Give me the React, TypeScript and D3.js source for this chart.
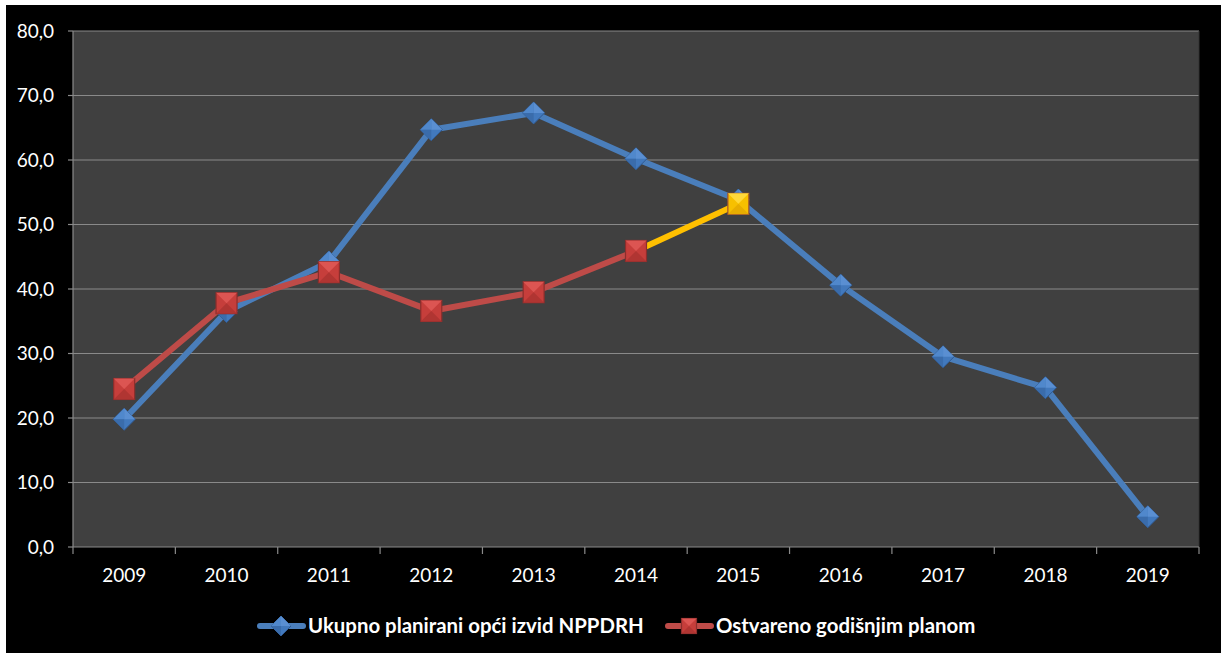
import * as d3 from 'd3';

const years = ['2009', '2010', '2011', '2012', '2013', '2014', '2015', '2016', '2017', '2018', '2019'];
const planned = [19.8, 36.5, 44.2, 64.7, 67.3, 60.2, 53.8, 40.6, 29.5, 24.7, 4.7];
const achieved = [24.5, 37.8, 42.6, 36.6, 39.5, 45.9, 53.2];
const yTicks = [0, 10, 20, 30, 40, 50, 60, 70, 80];
const plannedLabel = 'Ukupno planirani opći izvid NPPDRH';
const achievedLabel = 'Ostvareno godišnjim planom';

const W = 1221;
const H = 655;
const margin = { top: 31, right: 22, bottom: 108, left: 73 };
const font = 'Lato, "Open Sans", sans-serif';

const blue = '#4a7ebb';
const red = '#be4b48';
const yellow = '#ffc000';

function Diamond({ x, y, r }: { x: number; y: number; r: number }) {
  return (
    <g transform={`translate(${x},${y})`}>
      <path d={`M0,${-r}L${r},0L0,${r}L${-r},0Z`} fill="#4279bd" stroke="#2f5a92" strokeWidth={1} />
      <path d={`M0,${-r}L${r},0L0,0Z`} fill="#5a8fd2" />
      <path d={`M0,${-r}L${-r},0L0,0Z`} fill="#5088cc" />
      <path d={`M0,${r}L${-r},0L0,0Z`} fill="#3a6cab" />
    </g>
  );
}

function Square({ x, y, s, fill, light, dark, edge }: { x: number; y: number; s: number; fill: string; light: string; dark: string; edge: string }) {
  const h = s / 2;
  return (
    <g transform={`translate(${x},${y})`}>
      <rect x={-h} y={-h} width={s} height={s} fill={fill} stroke={edge} strokeWidth={1.2} />
      <path d={`M${-h},${-h}L${h},${-h}L0,0Z`} fill={light} />
      <path d={`M${-h},${h}L${h},${h}L0,0Z`} fill={dark} />
    </g>
  );
}

export default function App() {
  const x = d3
    .scaleBand<string>()
    .domain(years)
    .range([margin.left, W - margin.right]);
  const y = d3
    .scaleLinear()
    .domain([0, 80])
    .range([H - margin.bottom, margin.top]);
  const cx = (i: number) => x(years[i])! + x.bandwidth() / 2;

  const line = d3
    .line<number>()
    .x((_, i) => cx(i))
    .y(d => y(d));

  const redPart = achieved.slice(0, achieved.length - 1);
  const last = achieved.length - 1;
  const yellowSeg = d3
    .line<number>()
    .x((_, i) => cx(last - 1 + i))
    .y(d => y(d))(achieved.slice(last - 1));

  const x0 = margin.left;
  const x1 = W - margin.right;
  const y0 = H - margin.bottom;
  const y1 = margin.top;
  const legY = 626;

  const redMark = { fill: '#c63e3b', light: '#dc5552', dark: '#b03532', edge: '#8b2e2c' };
  const yellowMark = { fill: '#f7c000', light: '#ffd83a', dark: '#e8ad00', edge: '#a0522d' };

  return (
    <div style={{ position: 'absolute', left: 0, top: 0 }}>
      <svg width={W} height={H} style={{ display: 'block', background: '#fff' }}>
        <rect x={6} y={5} width={W - 6} height={H - 7} fill="#000" />
        <rect x={x0} y={y1} width={x1 - x0} height={y0 - y1} fill="#404040" />

        {/* grid + y axis */}
        {yTicks.map(t => (
          <g key={t}>
            {t > 0 && <line x1={x0} x2={x1} y1={y(t)} y2={y(t)} stroke="#8a8a8a" strokeWidth={1.2} />}
            <line x1={x0 - 5} x2={x0} y1={y(t)} y2={y(t)} stroke="#8a8a8a" strokeWidth={1.2} />
            <text x={54} y={y(t)} dy="0.35em" textAnchor="end" fill="#fff" fontFamily={font} fontSize={19}>
              {d3.format('.1f')(t).replace('.', ',')}
            </text>
          </g>
        ))}
        <line x1={x0} x2={x0} y1={y1} y2={y0} stroke="#8a8a8a" strokeWidth={1.2} />
        <line x1={x1} x2={x1} y1={y1} y2={y0} stroke="#333" strokeWidth={1} />

        {/* x axis */}
        <line x1={x0} x2={x1} y1={y0} y2={y0} stroke="#8a8a8a" strokeWidth={1.2} />
        {years.concat(['']).map((yr, i) => {
          const tx = i < years.length ? x(yr)! : x1;
          return <line key={i} x1={tx} x2={tx} y1={y0} y2={y0 + 7} stroke="#8a8a8a" strokeWidth={1.2} />;
        })}
        {years.map((yr, i) => (
          <text key={yr} x={cx(i)} y={582} textAnchor="middle" fill="#fff" fontFamily={font} fontSize={19}>
            {yr}
          </text>
        ))}

        {/* planned series */}
        <path d={line(planned)!} fill="none" stroke={blue} strokeWidth={6} strokeLinejoin="round" />
        {planned.map((v, i) => (
          <Diamond key={i} x={cx(i)} y={y(v)} r={11} />
        ))}

        {/* achieved series */}
        <path d={line(redPart)!} fill="none" stroke={red} strokeWidth={6} strokeLinejoin="round" />
        <path d={yellowSeg!} fill="none" stroke={yellow} strokeWidth={6} />
        {achieved.map((v, i) => (
          <Square key={i} x={cx(i)} y={y(v)} s={21} {...(i === last ? yellowMark : redMark)} />
        ))}

        {/* legend */}
        <line x1={260} x2={303} y1={legY} y2={legY} stroke={blue} strokeWidth={6} strokeLinecap="round" />
        <Diamond x={281} y={legY} r={10} />
        <text x={308} y={legY} dy="0.35em" fill="#fff" fontFamily={font} fontSize={20.4} fontWeight="bold">
          {plannedLabel}
        </text>
        <line x1={668} x2={711} y1={legY} y2={legY} stroke={red} strokeWidth={6} strokeLinecap="round" />
        <Square x={689} y={legY} s={15} {...redMark} />
        <text x={716} y={legY} dy="0.35em" fill="#fff" fontFamily={font} fontSize={20.4} fontWeight="bold">
          {achievedLabel}
        </text>
      </svg>
    </div>
  );
}
